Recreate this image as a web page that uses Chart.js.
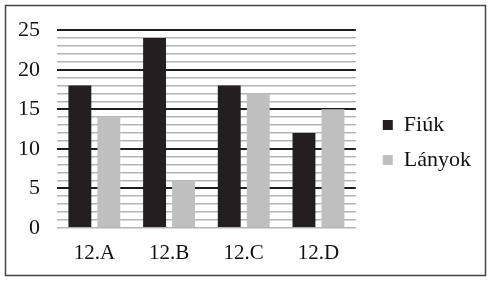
<!DOCTYPE html>
<html>
<head>
<meta charset="utf-8">
<script src="https://cdn.jsdelivr.net/npm/chart.js@4/dist/chart.umd.min.js"></script>
<style>
  html, body { margin: 0; padding: 0; background: #fff; }
  #wrap { width: 494px; height: 282px; position: relative; }
</style>
</head>
<body>
<div id="wrap"><canvas id="chart"></canvas></div>
<script>
// adatok
const categories = ['12.A', '12.B', '12.C', '12.D'];
const seriesNames = ['Fiúk', 'Lányok'];
const fiuk = [18, 24, 18, 12];
const lanyok = [14, 6, 17, 15];
const yMin = 0;
const yMax = 25;
const yStep = 1;
const yLabelStep = 5;

Chart.defaults.font.family = "'Liberation Serif', 'Times New Roman', serif";
Chart.defaults.color = '#111';

// keret a teljes ábra körül + a jelmagyarázat kicsit odébb tolva
const frame = {
    id: 'frame',
    afterLayout(chart) {
        const lg = chart.legend;
        lg.left += 14;
        lg.right += 14;
        lg.top -= 10.5;
        lg.bottom -= 10.5;
    },
    beforeDraw(chart) {
        const ctx = chart.ctx;
        ctx.save();
        ctx.fillStyle = '#fff';
        ctx.fillRect(0, 0, chart.width, chart.height);
        ctx.strokeStyle = '#444';
        ctx.lineWidth = 1.5;
        ctx.strokeRect(5.5, 5.5, 480, 270);
        ctx.restore();
    }
};

new Chart(document.getElementById('chart'), {
    type: 'bar',
    data: {
        labels: categories,
        datasets: [
            { label: seriesNames[0], data: fiuk, backgroundColor: '#231f20' },
            { label: seriesNames[1], data: lanyok, backgroundColor: '#bfbfbf' }
        ]
    },
    options: {
        responsive: true,
        maintainAspectRatio: false,
        animation: false,
        categoryPercentage: 0.776,
        barPercentage: 0.79,
        layout: { autoPadding: false, padding: { left: 1, right: 27, top: 27, bottom: 3 } },
        scales: {
            x: {
                grid: { display: false, drawTicks: false },
                border: { display: false },
                ticks: { font: { size: 21 }, padding: 13, color: '#111' }
            },
            y: {
                min: yMin,
                max: yMax,
                border: { display: false },
                grid: {
                    drawTicks: false,
                    color: (c) => (c.tick && c.tick.value > 0 && c.tick.value % yLabelStep === 0) ? '#1e1e1e' : '#b4b4b4',
                    lineWidth: (c) => (c.tick && c.tick.value > 0 && c.tick.value % yLabelStep === 0) ? 2 : 1.5
                },
                ticks: {
                    stepSize: yStep,
                    autoSkip: false,
                    padding: 17,
                    font: { size: 22 },
                    color: '#111',
                    callback: (v) => (v % yLabelStep === 0 ? v : '')
                }
            }
        },
        plugins: {
            legend: {
                position: 'right',
                labels: {
                    boxWidth: 10,
                    boxHeight: 10,
                    padding: 13,
                    font: { size: 22 },
                    color: '#111'
                }
            },
            tooltip: { enabled: false }
        }
    },
    plugins: [frame]
});
</script>
</body>
</html>
